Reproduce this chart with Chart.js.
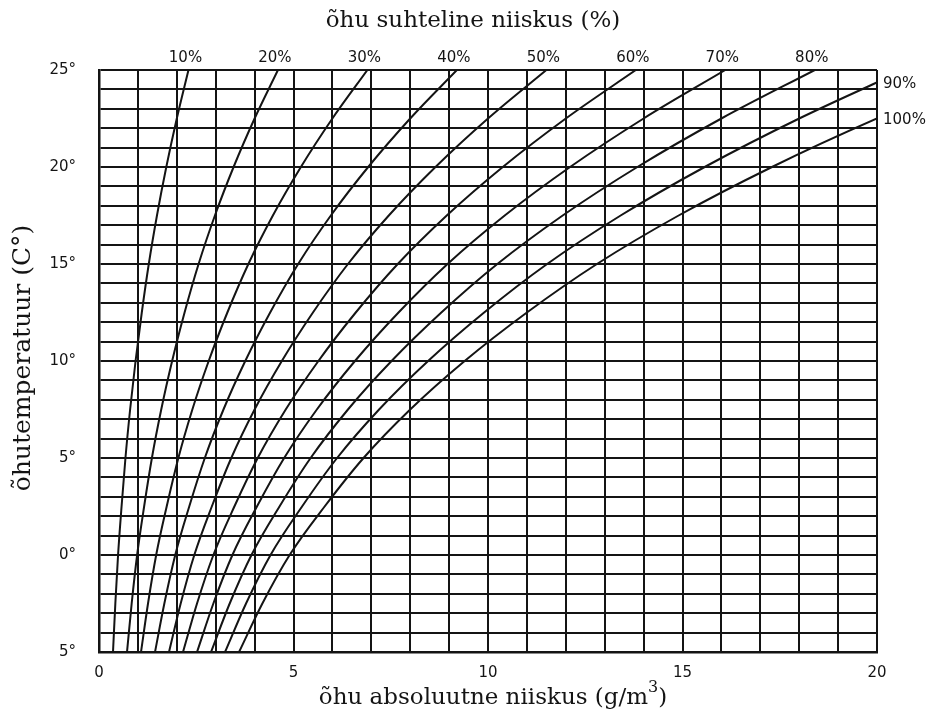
<!DOCTYPE html>
<html>
<head>
<meta charset="utf-8">
<script src="https://cdn.jsdelivr.net/npm/chart.js@4.4.1/dist/chart.umd.min.js"></script>
<style>
  html, body { margin: 0; padding: 0; background: #fff; }
  #wrap { width: 947px; height: 718px; }
</style>
</head>
<body>
<div id="wrap"><canvas id="chart" width="947" height="718"></canvas></div>
<script>
// temperature rows (°C) the curves were read at
const temps = [-5, -2.5, 0, 2.5, 5, 7.5, 10, 12.5, 15, 17.5, 20, 22.5, 25];

// absolute humidity (g/m3) of each relative humidity curve
const rh10  = [0.36, 0.42, 0.49, 0.58, 0.68, 0.80, 0.94, 1.10, 1.28, 1.49, 1.73, 2.00, 2.30];
const rh20  = [0.72, 0.84, 0.98, 1.16, 1.36, 1.60, 1.88, 2.20, 2.56, 2.98, 3.46, 4.00, 4.60];
const rh30  = [1.08, 1.26, 1.47, 1.74, 2.04, 2.40, 2.82, 3.30, 3.84, 4.47, 5.19, 6.00, 6.90];
const rh40  = [1.44, 1.68, 1.96, 2.32, 2.72, 3.20, 3.76, 4.40, 5.12, 5.96, 6.92, 8.00, 9.20];
const rh50  = [1.80, 2.10, 2.45, 2.90, 3.40, 4.00, 4.70, 5.50, 6.40, 7.45, 8.65, 10.0, 11.5];
const rh60  = [2.16, 2.52, 2.94, 3.48, 4.08, 4.80, 5.64, 6.60, 7.68, 8.94, 10.38, 12.0, 13.8];
const rh70  = [2.52, 2.94, 3.43, 4.06, 4.76, 5.60, 6.58, 7.70, 8.96, 10.43, 12.11, 14.0, 16.1];
const rh80  = [2.88, 3.36, 3.92, 4.64, 5.44, 6.40, 7.52, 8.80, 10.24, 11.92, 13.84, 16.0, 18.4];
const rh90  = [3.24, 3.78, 4.41, 5.22, 6.12, 7.20, 8.46, 9.90, 11.52, 13.41, 15.57, 18.0, 20.7];
const rh100 = [3.60, 4.20, 4.90, 5.80, 6.80, 8.00, 9.40, 11.0, 12.80, 14.90, 17.30, 20.0, 23.0];

const curves = [rh10, rh20, rh30, rh40, rh50, rh60, rh70, rh80, rh90, rh100];
const curveNames = ['10%', '20%', '30%', '40%', '50%', '60%', '70%', '80%', '90%', '100%'];

// axis ticks
const xTickValues = [0, 5, 10, 15, 20];
const xTickLabels = ['0', '5', '10', '15', '20'];
const yTickValues = [-5, 0, 5, 10, 15, 20, 25];
const yTickLabels = ['5°', '0°', '5°', '10°', '15°', '20°', '25°'];

const topTitle = 'õhu suhteline niiskus (%)';
const xTitle = 'õhu absoluutne niiskus (g/m';
const xTitleSup = '3';
const yTitle = 'õhutemperatuur (C°)';

const ink = '#141414';

// titles and curve labels
const textPlugin = {
    id: 'textPlugin',
    afterDraw(chart) {
        const { ctx, chartArea, scales } = chart;
        const xs = scales.x, ys = scales.y;
        ctx.save();
        ctx.fillStyle = ink;
        ctx.textBaseline = 'middle';

        ctx.font = '23px "DejaVu Serif"';
        ctx.textAlign = 'center';
        ctx.fillText(topTitle, 473, 21);

        // bottom title with raised 3
        ctx.textAlign = 'left';
        const w1 = ctx.measureText(xTitle).width;
        ctx.font = '16px "DejaVu Serif"';
        const w2 = ctx.measureText(xTitleSup).width;
        ctx.font = '23px "DejaVu Serif"';
        const w3 = ctx.measureText(')').width;
        const x0 = 493 - (w1 + w2 + w3) / 2;
        ctx.fillText(xTitle, x0, 698);
        ctx.font = '16px "DejaVu Serif"';
        ctx.fillText(xTitleSup, x0 + w1, 688);
        ctx.font = '23px "DejaVu Serif"';
        ctx.fillText(')', x0 + w1 + w2, 698);

        ctx.save();
        ctx.font = '25px "DejaVu Serif"';
        ctx.textAlign = 'center';
        ctx.translate(23, 358);
        ctx.rotate(-Math.PI / 2);
        ctx.fillText(yTitle, 0, 0);
        ctx.restore();

        ctx.font = '15px "DejaVu Sans"';
        const xMax = xs.max;
        curves.forEach((c, i) => {
            const last = c[c.length - 1];
            if (last <= xMax) {
                ctx.textAlign = 'center';
                ctx.fillText(curveNames[i], xs.getPixelForValue(last) - 3, chartArea.top - 12);
            } else {
                // find where the curve leaves the right edge
                let t = temps[temps.length - 1];
                for (let k = 1; k < c.length; k++) {
                    if (c[k] >= xMax) {
                        const f = (xMax - c[k - 1]) / (c[k] - c[k - 1]);
                        t = temps[k - 1] + f * (temps[k] - temps[k - 1]);
                        break;
                    }
                }
                ctx.textAlign = 'left';
                ctx.fillText(curveNames[i], chartArea.right + 6, ys.getPixelForValue(t) + 2);
            }
        });
        ctx.restore();
    }
};

const datasets = curves.map((c, i) => ({
    label: curveNames[i],
    data: c.map((v, k) => ({ x: v, y: temps[k] })),
    showLine: true,
    borderColor: ink,
    borderWidth: 2,
    pointRadius: 0,
    cubicInterpolationMode: 'monotone',
    fill: false
}));

new Chart(document.getElementById('chart').getContext('2d'), {
    type: 'scatter',
    data: { datasets },
    options: {
        responsive: false,
        animation: false,
        layout: { padding: { top: 70, right: 70, left: 0, bottom: 0 } },
        plugins: {
            legend: { display: false },
            tooltip: { enabled: false },
            title: { display: false }
        },
        scales: {
            x: {
                type: 'linear',
                min: 0,
                max: 20,
                afterFit: s => { s.height = 66; },
                grid: { color: ink, lineWidth: 2, drawTicks: false },
                border: { color: ink, width: 2.5 },
                ticks: {
                    stepSize: 1,
                    autoSkip: false,
                    maxRotation: 0,
                    padding: 12,
                    color: ink,
                    font: { family: 'DejaVu Sans', size: 15 },
                    callback: v => {
                        const i = xTickValues.indexOf(v);
                        return i >= 0 ? xTickLabels[i] : '';
                    }
                }
            },
            y: {
                type: 'linear',
                min: -5,
                max: 25,
                afterFit: s => { s.width = 99; },
                grid: { color: ink, lineWidth: 2, drawTicks: false },
                border: { color: ink, width: 2.5 },
                ticks: {
                    stepSize: 1,
                    autoSkip: false,
                    padding: 23,
                    color: ink,
                    font: { family: 'DejaVu Sans', size: 15 },
                    callback: v => {
                        const i = yTickValues.indexOf(v);
                        return i >= 0 ? yTickLabels[i] : '';
                    }
                }
            }
        }
    },
    plugins: [textPlugin]
});
</script>
</body>
</html>
